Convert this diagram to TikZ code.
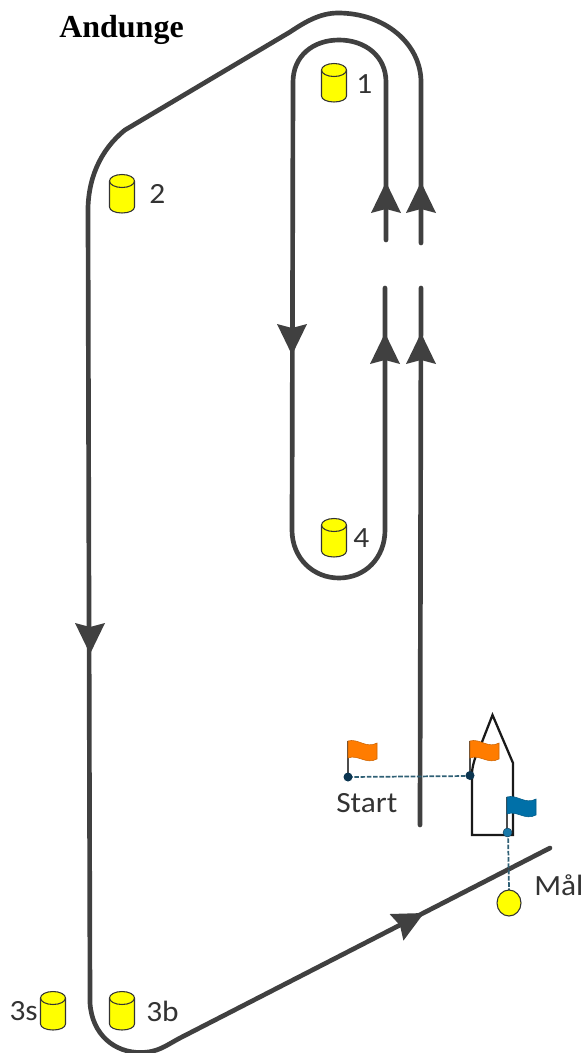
\documentclass[tikz,border=0pt]{standalone}
\usepackage{fontspec}
\setmainfont[FakeStretch=1.07]{Carlito}
\newfontfamily\titlefont{Liberation Serif}
\usetikzlibrary{calc}
\definecolor{route}{HTML}{404040}
\definecolor{buoyY}{HTML}{FFFF00}
\definecolor{flagO}{HTML}{FF7C00}
\definecolor{flagB}{HTML}{0070A8}
\definecolor{dotD}{HTML}{0B3550}
\definecolor{dotB}{HTML}{1878A8}
\definecolor{dashC}{HTML}{2F6075}
\tikzset{
  routeline/.style={draw=route,line width=3.5pt,line cap=round,line join=round},
  boatline/.style={draw=black!90,line width=1.7pt,line join=miter},
  lbl/.style={inner sep=0pt,text=black!80,font=\fontsize{22pt}{26pt}\selectfont},
  dashline/.style={draw=dashC,line width=1.3pt,dash pattern=on 3.5pt off 1.2pt},
  pole/.style={draw=black!70,line width=1.1pt}
}
\newcommand{\arrowhead}[3]{% x y(tip) angle
  \fill[route] (#1,#2) [rotate around={#3:(#1,#2)}] -- ++(15,31) -- ++(-15,-4) -- ++(-15,4) -- cycle;
}
\newcommand{\buoy}[2]{% centre x, top-ellipse y
  \draw[fill=buoyY,draw=black!80,line width=.8pt]
    (#1-12.5,#2) -- (#1-12.5,#2+26)
    .. controls (#1-12.5,#2+29.5) and (#1-7,#2+32) .. (#1,#2+32)
    .. controls (#1+7,#2+32) and (#1+12.5,#2+29.5) .. (#1+12.5,#2+26)
    -- (#1+12.5,#2)
    .. controls (#1+12.5,#2-3.6) and (#1+7,#2-6.5) .. (#1,#2-6.5)
    .. controls (#1-7,#2-6.5) and (#1-12.5,#2-3.6) .. (#1-12.5,#2) -- cycle;
  \draw[draw=black!80,line width=.8pt] (#1-12.5,#2)
    .. controls (#1-12.5,#2+3.6) and (#1-7,#2+6.5) .. (#1,#2+6.5)
    .. controls (#1+7,#2+6.5) and (#1+12.5,#2+3.6) .. (#1+12.5,#2);
}
\newcommand{\flagshape}[3]{% x y(top-left) colour
  \draw[pole] (#1,#2) -- (#1,#2+34);
  \fill[#3,draw=#3!80!black,line width=.4pt] (#1,#2)
    .. controls (#1+10,#2-3) and (#1+18,#2+8) .. (#1+29,#2+2)
    -- (#1+29,#2+18)
    .. controls (#1+18,#2+24) and (#1+10,#2+13) .. (#1,#2+17) -- cycle;
}
\begin{document}
\begin{tikzpicture}[x=0.75pt,y=-0.75pt]
\useasboundingbox (0,0) rectangle (585,1053);
% title
\node[anchor=west,inner sep=0pt,font=\titlefont\bfseries\fontsize{24pt}{28pt}\selectfont,text=black] (title) at (59,30) {Andunge};
% outer route
\draw[routeline] (420,825) -- (421,288);
\draw[routeline] (421,243) -- (421,82)
  .. controls (421,44) and (385,13) .. (338,13)
  .. controls (320,13) and (305,22) .. (290,32)
  -- (125,130)
  .. controls (100,150) and (87,180) .. (88,215)
  -- (90,1003)
  .. controls (92,1035) and (115,1052.5) .. (140,1052.5)
  .. controls (158,1052.5) and (165,1046) .. (180,1038)
  -- (550,848);
% inner route
\draw[routeline] (386,240) -- (386,82)
  .. controls (386,56) and (365,40) .. (339,40)
  .. controls (313,40) and (293,56) .. (293,82)
  -- (292,530)
  .. controls (292,558) and (313,578) .. (339,578)
  .. controls (365,578) and (385,558) .. (385,530)
  -- (385,288);
% arrowheads
\arrowhead{386}{182}{0}
\arrowhead{421}{182}{0}
\arrowhead{385}{333}{0}
\arrowhead{421}{333}{0}
\arrowhead{292}{355}{180}
\arrowhead{90}{654}{180}
\arrowhead{424}{913}{-62.5}
% buoys
\buoy{334}{70}
\node[lbl,anchor=west] (n1) at (356,84) {1};
\buoy{122}{181}
\node[lbl,anchor=west] (n2) at (149,194) {2};
\buoy{334}{525}
\node[lbl,anchor=west] (n4) at (353,538) {4};
\buoy{53}{998}
\node[lbl,anchor=east] (n3s) at (38,1011) {3s};
\buoy{122}{998}
\node[lbl,anchor=west] (n3b) at (146,1011) {3b};
% boat
\draw[boatline] (472,835) -- (472,772) .. controls (473,762) and (477,752) .. (482,742) -- (492.5,715) -- (513,763) -- (513,835) -- cycle;
% dashed lines
\draw[dashline] (348,777) -- (470,776);
\draw[dashline] (508,832) -- (509,890);
% flags
\flagshape{348}{741}{flagO}
\flagshape{470}{741}{flagO}
\flagshape{507}{797}{flagB}
% dots
\fill[dotD] (348,777) circle (4.5);
\fill[dotD] (470,775.5) circle (4.5);
\fill[dotB,draw=dotD,line width=.3pt] (507.5,832.5) circle (4.5);
% finish buoy
\draw[fill=buoyY,draw=black!80,line width=.8pt] (509,903) ellipse (12 and 13);
% labels
\node[lbl,anchor=west] (start) at (336,803) {Start};
\node[lbl,anchor=west] (maal) at (534,885) {Mål};
\end{tikzpicture}
\end{document}
